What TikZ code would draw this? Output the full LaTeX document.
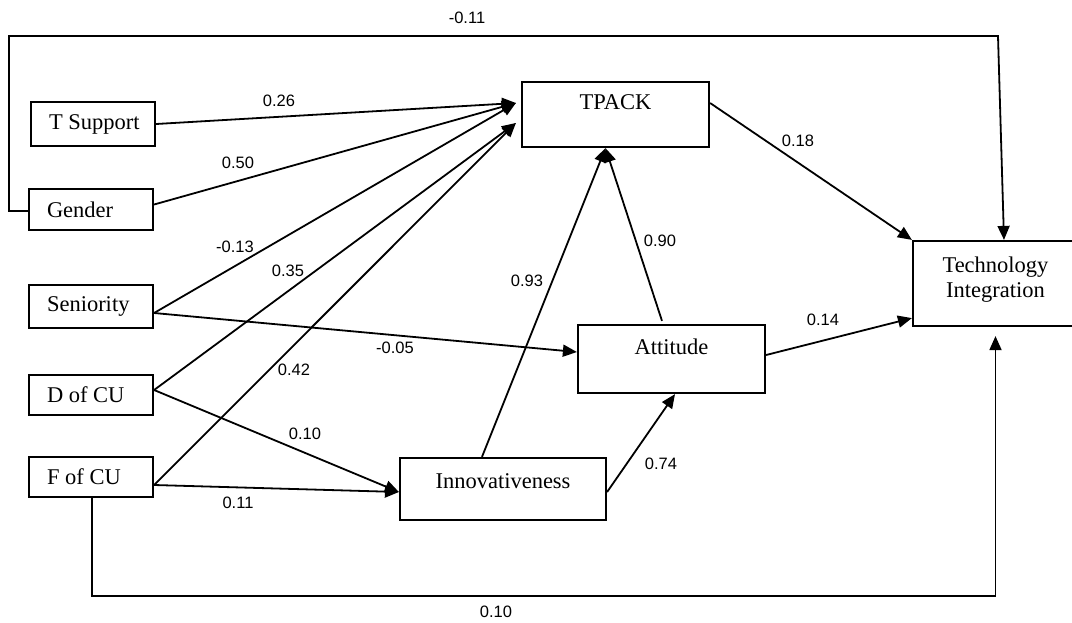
\documentclass[tikz,border=0pt]{standalone}
\usepackage{fontspec}
\setmainfont{Liberation Serif}
\newfontfamily\lblfont{Liberation Sans}
\usetikzlibrary{arrows.meta}
\newcommand{\lefttext}[1]{\makebox[44pt][l]{#1}}
\begin{document}
\begin{tikzpicture}[x=0.5pt,y=-0.5pt,
  box/.style={draw, line width=1.1pt, inner sep=0pt, font=\fontsize{11.25}{12.5}\selectfont},
  lbox/.style={box, inner xsep=9pt, inner ysep=0pt, minimum width=62pt},
  txt/.style={inner sep=0pt, font=\fontsize{11.25}{12.5}\selectfont, align=center},
  wt/.style={inner sep=0pt, font=\lblfont\fontsize{8.25}{9}\selectfont},
  conn/.style={line width=0.9pt, -{Triangle[length=7pt,width=6pt]}}
]
\useasboundingbox (0,0) rectangle (1072,622);
\clip (0,0) rectangle (1072,622);

% left column
\node[lbox, minimum height=22pt] (tsup) at (93,124) {\lefttext{T Support}};
\node[lbox, minimum height=20.5pt] (gender) at (91,209.5) {\lefttext{Gender}};
\node[lbox, minimum height=21.5pt] (senior) at (91,306.5) {\lefttext{Seniority}};
\node[lbox, minimum height=20pt] (dcu) at (91,395) {\lefttext{D of CU}};
\node[lbox, minimum height=20pt] (fcu) at (91,477) {\lefttext{F of CU}};

% other boxes
\node[box, minimum width=93.5pt, minimum height=32.5pt] (tpack) at (615.5,114.5) {};
\node[txt] (tpackt) at ([yshift=6pt]tpack.center) {TPACK};
\node[box, minimum width=93.5pt, minimum height=34pt] (att) at (671.5,359) {};
\node[txt] (attt) at ([yshift=6pt]att.center) {Attitude};
\node[box, minimum width=103pt, minimum height=31pt] (innov) at (503,489) {};
\node[txt] (innovt) at ([yshift=4pt]innov.center) {Innovativeness};
\node[box, minimum width=82.5pt, minimum height=42.5pt] (ti) at (995.5,283.5) {};
\node[txt] (tit) at ([yshift=1.75pt]ti.center) {Technology\\Integration};

% connectors
\draw[conn] (tsup.east) -- ([shift={(-2.5pt,5.75pt)}]tpack.west);
\draw[conn] ([yshift=2.5pt]gender.east) -- ([shift={(-2.5pt,5.75pt)}]tpack.west);
\draw[conn] ([yshift=-3.25pt]senior.east) -- ([shift={(-2.5pt,5.75pt)}]tpack.west);
\draw[conn] ([yshift=-3.25pt]senior.east) -- ([yshift=3.5pt]att.west);
\draw[conn] ([yshift=2.5pt]dcu.east) -- ([shift={(-2.5pt,-4.25pt)}]tpack.west);
\draw[conn] ([yshift=2.5pt]dcu.east) -- ([yshift=-1.5pt]innov.west);
\draw[conn] ([yshift=-4pt]fcu.east) -- ([shift={(-2.5pt,-4.25pt)}]tpack.west);
\draw[conn] ([yshift=-4pt]fcu.east) -- ([yshift=-1.5pt]innov.west);
\draw[conn] ([xshift=-10.5pt]innov.north) -- ([xshift=-5pt]tpack.south);
\draw[conn] ([shift={(-4.75pt,1.5pt)}]att.north) -- ([xshift=-5pt]tpack.south);
\draw[conn] ([yshift=-1.5pt]innov.east) -- ([xshift=1.75pt]att.south);
\draw[conn] ([yshift=5.75pt]tpack.east) -- (ti.north west);
\draw[conn] ([yshift=2pt]att.east) -- ([yshift=4.5pt]ti.south west);
\draw[conn] ([yshift=-0.75pt]gender.west) -- ++(-19,0) |- (998,36) -- ([xshift=4.25pt]ti.north);
\draw[conn] ([xshift=0.5pt]fcu.south) -- ++(0,98) -| ([yshift=-4.5pt]ti.south);

% weights
\node[wt] (w1) at (467,18) {-0.11};
\node[wt] (w2) at (279,101) {0.26};
\node[wt] (w3) at (238,163) {0.50};
\node[wt] (w4) at (235,247) {-0.13};
\node[wt] (w5) at (288,271) {0.35};
\node[wt] (w6) at (294,370) {0.42};
\node[wt] (w7) at (395,348) {-0.05};
\node[wt] (w8) at (305,434) {0.10};
\node[wt] (w9) at (238,503) {0.11};
\node[wt] (w10) at (527,281) {0.93};
\node[wt] (w11) at (660,241) {0.90};
\node[wt] (w12) at (661,464) {0.74};
\node[wt] (w13) at (798,141) {0.18};
\node[wt] (w14) at (823,320) {0.14};
\node[wt] (w15) at (496,612) {0.10};
\end{tikzpicture}
\end{document}
